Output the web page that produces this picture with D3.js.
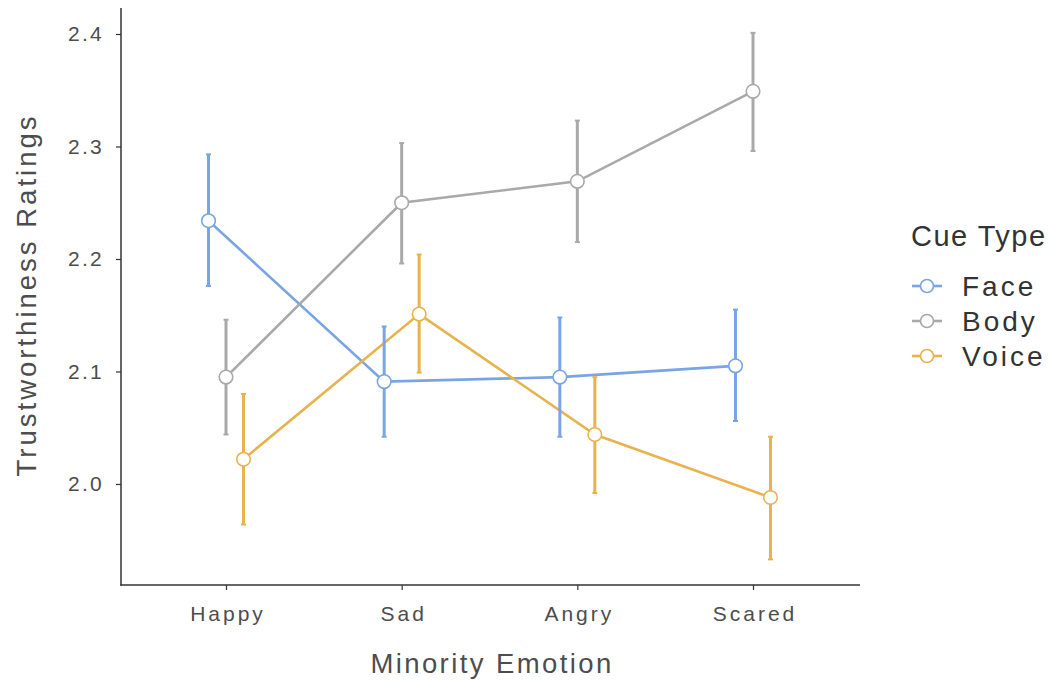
<!DOCTYPE html>
<html>
<head>
<meta charset="utf-8">
<script src="https://cdn.jsdelivr.net/npm/d3@7"></script>
<style>
  html, body { margin: 0; padding: 0; background: #fff; }
  svg { display: block; font-family: "Liberation Sans", Arial, sans-serif; }
</style>
</head>
<body>
<svg id="chart" width="1055" height="682"></svg>
<script>
// Categories and cue types
const emotions = ["Happy", "Sad", "Angry", "Scared"];
const cueTypes = ["Face", "Body", "Voice"];
const cueColors = ["#79a5e6", "#a9a9a9", "#e8b24e"];

// Mean trustworthiness ratings per emotion
const faceMean  = [2.234, 2.091, 2.095, 2.105];
const bodyMean  = [2.095, 2.250, 2.269, 2.349];
const voiceMean = [2.022, 2.151, 2.044, 1.988];

// Error bar bounds
const faceLow   = [2.176, 2.042, 2.042, 2.056];
const faceHigh  = [2.293, 2.140, 2.148, 2.155];
const bodyLow   = [2.044, 2.196, 2.215, 2.296];
const bodyHigh  = [2.146, 2.303, 2.323, 2.401];
const voiceLow  = [1.964, 2.099, 1.992, 1.933];
const voiceHigh = [2.080, 2.204, 2.095, 2.042];

const yTicks = [2.0, 2.1, 2.2, 2.3, 2.4];

const series = [
  { name: cueTypes[0], color: cueColors[0], mean: faceMean,  low: faceLow,  high: faceHigh },
  { name: cueTypes[1], color: cueColors[1], mean: bodyMean,  low: bodyLow,  high: bodyHigh },
  { name: cueTypes[2], color: cueColors[2], mean: voiceMean, low: voiceLow, high: voiceHigh }
];

const svg = d3.select("#chart");
const plotLeft = 121, plotRight = 860, plotTop = 8, plotBottom = 585;

const x = d3.scalePoint().domain(emotions).range([226, 753]);
const dodge = d3.scalePoint().domain(cueTypes).range([-17.5, 17.5]);
const y = d3.scaleLinear().domain([1.9102, 2.4231]).range([plotBottom, plotTop]);

const axisColor = "#333333";
const textColor = "#4d4d4d";

// Y axis
const yAxis = svg.append("g")
  .attr("transform", `translate(${plotLeft},0)`)
  .call(d3.axisLeft(y).tickValues(yTicks).tickFormat(d3.format(".1f")).tickSize(5).tickPadding(12).tickSizeOuter(0));
yAxis.select(".domain").remove();
yAxis.selectAll(".tick line").attr("stroke", axisColor).attr("stroke-width", 1.2);
yAxis.selectAll(".tick text").attr("fill", textColor)
  .style("font-size", "21px").style("letter-spacing", "2.3px");
svg.append("line").attr("x1", plotLeft).attr("x2", plotLeft).attr("y1", plotTop).attr("y2", plotBottom + 0.7)
  .attr("stroke", axisColor).attr("stroke-width", 1.5);

// X axis
const xAxis = svg.append("g")
  .attr("transform", `translate(0,${plotBottom})`)
  .call(d3.axisBottom(x).tickSize(5).tickPadding(16).tickSizeOuter(0));
xAxis.select(".domain").remove();
xAxis.selectAll(".tick line").attr("stroke", axisColor).attr("stroke-width", 1.2);
xAxis.selectAll(".tick text").attr("fill", textColor)
  .style("font-size", "21px").style("letter-spacing", "3px").attr("dx", "1.5");
svg.append("line").attr("x1", plotLeft - 0.7).attr("x2", plotRight).attr("y1", plotBottom).attr("y2", plotBottom)
  .attr("stroke", axisColor).attr("stroke-width", 1.5);

// Axis titles
svg.append("text").attr("x", 492).attr("y", 673).attr("text-anchor", "middle")
  .attr("fill", textColor).style("font-size", "27.5px").style("letter-spacing", "2.4px")
  .text("Minority Emotion");
svg.append("text").attr("transform", "translate(36,295) rotate(-90)").attr("text-anchor", "middle")
  .attr("fill", textColor).style("font-size", "27.5px").style("letter-spacing", "3px")
  .text("Trustworthiness Ratings");

const px = (s, i) => x(emotions[i]) + dodge(s.name);

// Lines
const line = d3.line().x(d => d[0]).y(d => d[1]);
series.forEach(s => {
  svg.append("path")
    .datum(s.mean.map((v, i) => [px(s, i), y(v)]))
    .attr("d", line).attr("fill", "none")
    .attr("stroke", s.color).attr("stroke-width", 2.6);
});

// Error bars
series.forEach(s => {
  const g = svg.append("g");
  s.mean.forEach((v, i) => {
    const cx = px(s, i);
    g.append("line").attr("x1", cx).attr("x2", cx)
      .attr("y1", y(s.low[i])).attr("y2", y(s.high[i]))
      .attr("stroke", s.color).attr("stroke-width", 3);
    [s.low[i], s.high[i]].forEach(b => {
      g.append("line").attr("x1", cx - 2.5).attr("x2", cx + 2.5)
        .attr("y1", y(b)).attr("y2", y(b))
        .attr("stroke", s.color).attr("stroke-width", 2);
    });
  });
});

// Points
series.forEach(s => {
  svg.append("g").selectAll("circle")
    .data(s.mean)
    .join("circle")
    .attr("cx", (d, i) => px(s, i))
    .attr("cy", d => y(d))
    .attr("r", 6.8)
    .attr("fill", "#fff")
    .attr("stroke", s.color)
    .attr("stroke-width", 1.6);
});

// Legend
const legend = svg.append("g");
legend.append("text").attr("x", 911).attr("y", 246).attr("fill", "#333")
  .style("font-size", "29px").style("letter-spacing", "1.5px").text("Cue Type");
series.forEach((s, i) => {
  const ly = 286 + i * 35;
  legend.append("line").attr("x1", 912).attr("x2", 942).attr("y1", ly).attr("y2", ly)
    .attr("stroke", s.color).attr("stroke-width", 2.6);
  legend.append("circle").attr("cx", 927).attr("cy", ly).attr("r", 6.5)
    .attr("fill", "#fff").attr("stroke", s.color).attr("stroke-width", 1.6);
  legend.append("text").attr("x", 962).attr("y", ly + 10).attr("fill", "#333")
    .style("font-size", "28px").style("letter-spacing", "3px").text(s.name);
});
</script>
</body>
</html>
